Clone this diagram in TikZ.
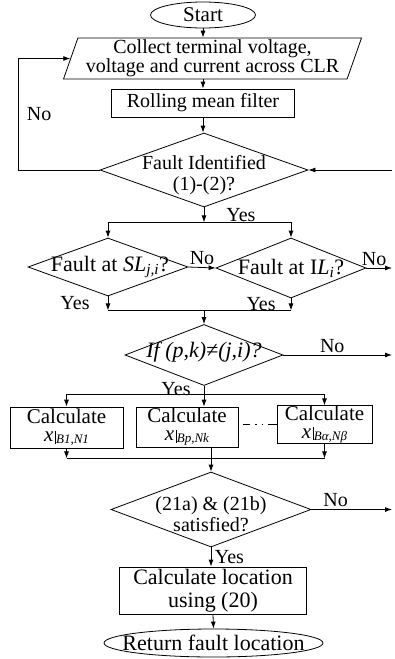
\documentclass[tikz,border=0pt]{standalone}
\usepackage{fontspec}
\setmainfont{Liberation Serif}
\usetikzlibrary{arrows.meta, positioning, shapes.geometric}

\newcommand{\xat}[1]{\textit{x}\hspace{2pt}\rule[-2pt]{0.7pt}{13pt}\raisebox{-2pt}{\fontsize{13}{13}\selectfont\textit{#1}}}

\tikzset{
	flowpicture/.style = {
		x = 1pt,
		y = -1pt,
		line width = 0.8pt,
		font = \fontsize{20}{21}\selectfont,
		every label/.style = {align = center},
		arrow/.style = {
			draw,
			-{Latex[length = 7pt, width = 5pt]},
		}
	},
	terminal/.style = {
		ellipse,
		draw = black,
		inner sep = 0pt
	},
	bigtext/.style = {
		font = \fontsize{21}{21}\selectfont
	},
	largetext/.style = {
		font = \fontsize{22}{22}\selectfont
	},
	io/.style = {
		trapezium,
		trapezium left angle = 70,
		trapezium right angle = 110,
		trapezium stretches = true,
		draw = black,
		align = center,
		inner sep = 0pt,
		font = \fontsize{20}{19}\selectfont
	},
	process/.style = {
		rectangle,
		draw = black,
		align = center,
		inner sep = 0pt
	},
	calcbox/.style = {
		process,
		font = \fontsize{21}{18}\selectfont
	},
	decision/.style = {
		diamond,
		draw = black,
		inner sep = 0pt
	},
	answer/.style = {
		inner sep = 2pt
	},
	gapline/.style = {
		draw,
		dash pattern = on 0pt off 5pt on 7pt off 5pt on 1.5pt off 5pt on 1.5pt off 5pt on 12pt
	}
}

\begin{document}
\begin{tikzpicture}[flowpicture]
	\useasboundingbox (0,0) rectangle (394,659);
	\coordinate (edge) at (392,0);

	\node[terminal, minimum width = 105pt, minimum height = 26pt, label = {[bigtext]center:Start}] (start) at (203,15) {};
	\node[io, minimum width = 299pt, minimum height = 41pt] (collect) at (212.5,58.5) {Collect terminal voltage,\\voltage and current across CLR};
	\node[process, minimum width = 183pt, minimum height = 28pt] (filter) at (203,103) {Rolling mean filter};
	\node[decision, minimum width = 208pt, minimum height = 74pt, label = {[yshift = -5pt]center:Fault Identified\\(1)-(2)?}] (ident) at (204,170) {};

	\node[decision, minimum width = 160pt, minimum height = 58pt, label = {[largetext, xshift = 2pt]center:Fault at \textit{SL}\textsubscript{\textit{j,i}}?}] (sl) at (108,267) {};
	\node[decision, minimum width = 150pt, minimum height = 60pt, label = {[largetext]center:Fault at I\textit{L}\textsubscript{\textit{i}}?}] (il) at (291,268) {};
	\node[decision, minimum width = 158pt, minimum height = 61pt, label = {[largetext, yshift = 3pt]center:\textit{If (p,k)≠(j,i)?}}] (pk) at (204,355) {};

	\node[calcbox, minimum width = 113pt, minimum height = 41pt] (calc1) at (66.5,427.5) {Calculate\\\xat{B1,N1}};
	\node[calcbox, minimum width = 102pt, minimum height = 40pt] (calc2) at (187,427) {Calculate\\\xat{Bp,Nk}};
	\node[calcbox, minimum width = 95pt, minimum height = 35pt] (calc3) at (324.5,424.5) {Calculate\\\xat{Bα,Nβ}};

	\node[decision, minimum width = 200pt, minimum height = 75pt, label = {[yshift = -5pt]center:(21a) \& (21b)\\satisfied?}] (sat) at (211,509.5) {};
	\node[process, font = \fontsize{22}{23}\selectfont, minimum width = 187pt, minimum height = 47pt] (location) at (213,590.5) {Calculate location\\using (20)};
	\node[terminal, minimum width = 219pt, minimum height = 28pt, label = {[largetext]center:Return fault location}] (finish) at (213.5,643) {};

	\coordinate (split2) at ([yshift = -8pt]pk.south);

	\begin{scope}[every path/.style = arrow]
		\path (start) -- (start |- collect.north);
		\path (filter |- collect.south) -- (filter);
		\path (filter.south) -- (filter.south |- ident.north);
		\path (ident.west) -- ++(-81,0) |- node[answer, pos = 0.25, right = 6pt] {No} (collect.west);
		\path (ident.east -| edge) -- (ident.east);
		\path (ident.south) -- node[answer, right = 20pt] {Yes} ++(0,15) coordinate (split1);
		\path (split1) -| (sl.north);
		\path (split1) -| (il.north);

		\path (sl.east) -- node[answer, above] {No} (il.west);
		\path (il.east) -- node[answer, above, pos = 0.3] {No} (il.east -| edge);
		\path (sl.south) -- node[answer, left = 16pt] {Yes} ++(0,14) coordinate (join1);
		\path (il.south) -- node[answer, left = 13pt] {Yes} (il.south |- join1) coordinate (join2);
		\path (pk.north |- join1) -- (pk.north);

		\path (pk.east) -- node[answer, above, pos = 0.45] {No} (pk.east -| edge);
		\path (pk.south) -- node[answer, left = 11pt, pos = 0.15] {Yes} (pk.south |- calc2.north);
		\path (split2) -| (calc1.north);
		\path (split2) -| (calc3.north);

		\path (calc1.south) -- ++(0,10) coordinate (join3);
		\path (calc3.south) -- (calc3.south |- join3);
		\path (sat.north |- calc2.south) -- (sat.north);

		\path (sat.east) -- node[answer, above, pos = 0.3] {No} (sat.east -| edge);
		\path (sat.south) -- node[answer, right = 1.5pt] {Yes} (sat.south |- location.north);
		\path (location.south) -- (finish.north);
	\end{scope}

	\draw (join1) -- (join2);
	\draw (join3) -- (calc3.south |- join3);
	\path[gapline] (calc3.west -| calc2.east) -- (calc3.west);
\end{tikzpicture}
\end{document}
